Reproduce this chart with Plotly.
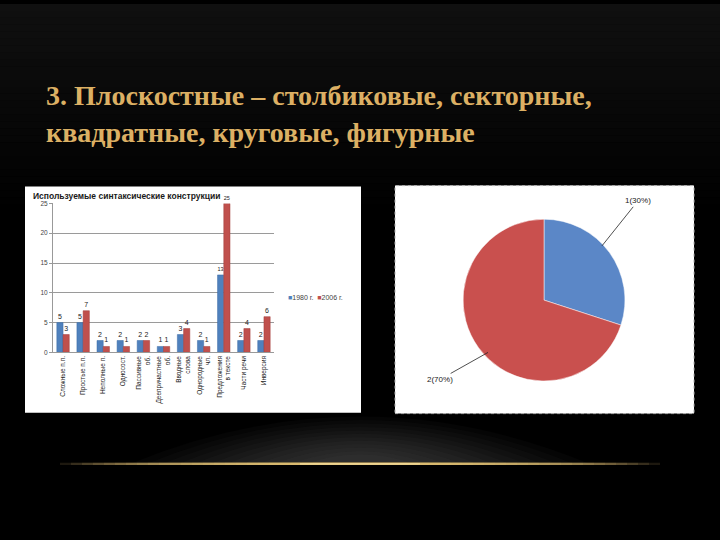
import plotly.graph_objects as go

# ---------------- data ----------------
categories = [
    "Сложные п.п.", "Простые п.п.", "Неполные п.", "Односост.",
    "Пассивные<br>об.", "Деепричастные<br>об.", "Вводные<br>слова",
    "Однородные<br>чл.", "Предложения<br>в тексте", "Части речи", "Инверсия",
]
series_names = ["1980 г.", "2006 г."]
values_1980 = [5, 5, 2, 2, 2, 1, 3, 2, 13, 2, 2]
values_2006 = [3, 7, 1, 1, 2, 1, 4, 1, 25, 4, 6]
y_ticks = [0, 5, 10, 15, 20, 25]

pie_labels = ["1", "2"]
pie_values = [30, 70]

title_lines = ["3. Плоскостные – столбиковые, секторные,",
               "квадратные, круговые, фигурные"]
chart_title = "Используемые синтаксические конструкции"

W, H = 720, 540
def px(x):
    return x / W
def py(y):
    return 1 - y / H

fig = go.Figure()

blue = "#4f81bd"
red = "#c0504d"

fig.add_trace(go.Bar(
    x=categories, y=values_1980, name=series_names[0],
    marker=dict(color=blue, line=dict(color="#3a6aa5", width=0.5)),
    text=values_1980, textposition="outside", cliponaxis=False,
    textfont=dict(size=7, color="#222", family="Liberation Sans"),
))
fig.add_trace(go.Bar(
    x=categories, y=values_2006, name=series_names[1],
    marker=dict(color=red, line=dict(color="#a03c3a", width=0.5)),
    text=values_2006, textposition="outside", cliponaxis=False,
    textfont=dict(size=7, color="#222", family="Liberation Sans"),
))

fig.add_trace(go.Pie(
    labels=pie_labels, values=pie_values, sort=False,
    direction="clockwise", rotation=0,
    marker=dict(colors=["#5b87c7", "#c9504e"],
                line=dict(color="#ffffff", width=0.5)),
    textinfo="none", hoverinfo="label+percent", showlegend=False,
    domain=dict(x=[px(462), px(626)], y=[py(382), py(218)]),
))

shapes = []
# background gradient at top
bands = 30
for i in range(bands):
    y0 = i * 7
    op = 0.14 * (1 - i / bands)
    shapes.append(dict(type="rect", xref="paper", yref="paper",
                       x0=0, x1=1, y0=py(y0), y1=py(y0 + 7),
                       fillcolor="#707070", opacity=op, line_width=0, layer="below"))
# bottom glow above the gold line (many faint layers)
for k in range(12):
    hw = 230 - k * 16
    hh = 48 - k * 3.5
    cx, by = 360, 466
    path = (f"M {px(cx - hw)},{py(by)} Q {px(cx)},{py(by - 2 * hh)} {px(cx + hw)},{py(by)} Z")
    shapes.append(dict(type="path", xref="paper", yref="paper", path=path,
                       fillcolor="#9a9a9a", opacity=0.03, line_width=0, layer="below"))
# gold line: many overlapping faint segments -> smooth fade to the ends
n_seg = 24
for k in range(n_seg):
    half = 300 - k * 11
    shapes.append(dict(type="line", xref="paper", yref="paper",
                       x0=px(360 - half), x1=px(360 + half), y0=py(466), y1=py(466),
                       line=dict(color="#e8c778", width=2.2), opacity=0.12, layer="below"))
shapes.append(dict(type="line", xref="paper", yref="paper",
                   x0=px(300), x1=px(420), y0=py(466), y1=py(466),
                   line=dict(color="#fbe7a8", width=1.2), opacity=0.8, layer="below"))
# white panels
shapes.append(dict(type="rect", xref="paper", yref="paper",
                   x0=px(25), x1=px(361), y0=py(414), y1=py(185),
                   fillcolor="white", line_width=0, layer="below"))
shapes.append(dict(type="rect", xref="paper", yref="paper",
                   x0=px(395), x1=px(694), y0=py(415), y1=py(184),
                   fillcolor="white", line=dict(color="#b0b0b0", width=1, dash="dot"),
                   layer="below"))

legend_text = (f"<span style='color:{blue}'>■</span>{series_names[0]}  "
               f"<span style='color:{red}'>■</span>{series_names[1]}")

title_font = dict(family="Liberation Serif", size=28, color="#dcb064")
annotations = [
    dict(text="<b>" + title_lines[0] + "</b>", x=px(44), y=py(93), xref="paper", yref="paper",
         xanchor="left", yanchor="middle", showarrow=False, font=title_font),
    dict(text="<b>" + title_lines[1] + "</b>", x=px(44), y=py(130), xref="paper", yref="paper",
         xanchor="left", yanchor="middle", showarrow=False, font=title_font),
    dict(text="<b>" + chart_title + "</b>", x=px(31), y=py(195), xref="paper", yref="paper",
         xanchor="left", yanchor="middle", showarrow=False,
         font=dict(family="Liberation Sans", size=8.5, color="#1a1a1a")),
    dict(text=legend_text, x=px(286), y=py(297), xref="paper", yref="paper",
         xanchor="left", yanchor="middle", showarrow=False,
         font=dict(family="Liberation Sans", size=7, color="#444")),
    dict(text=f"{pie_labels[0]}({pie_values[0]}%)", x=px(602), y=py(245), xref="paper", yref="paper",
         ax=36, ay=-45, showarrow=True, arrowhead=0, arrowwidth=0.8, arrowcolor="#222",
         font=dict(family="Liberation Sans", size=8, color="#222")),
    dict(text=f"{pie_labels[1]}({pie_values[1]}%)", x=px(488), y=py(353), xref="paper", yref="paper",
         ax=-48, ay=27, showarrow=True, arrowhead=0, arrowwidth=0.8, arrowcolor="#222",
         font=dict(family="Liberation Sans", size=8, color="#222")),
]

fig.update_layout(
    width=W, height=H, autosize=False,
    margin=dict(l=0, r=0, t=0, b=0),
    paper_bgcolor="#000000", plot_bgcolor="rgba(0,0,0,0)",
    barmode="group", bargap=0.38, bargroupgap=0.0,
    shapes=shapes, annotations=annotations,
    showlegend=False,
    xaxis=dict(domain=[px(53), px(274)], tickangle=-90,
               tickfont=dict(family="Liberation Sans", size=6.5, color="#222"),
               showline=True, linecolor="#999", linewidth=1,
               ticks="", showgrid=False, fixedrange=True),
    yaxis=dict(domain=[py(353), py(202)], range=[0, 25], tickvals=y_ticks,
               tickfont=dict(family="Liberation Sans", size=6.5, color="#444"),
               showline=True, linecolor="#999", linewidth=1,
               gridcolor="#9a9a9a", gridwidth=1, zeroline=False,
               ticks="outside", ticklen=3, tickcolor="#999", fixedrange=True),
)

fig.write_html("out.html", config={"displayModeBar": False},
               post_script="document.body.style.margin='0';document.body.style.background='#000';")
